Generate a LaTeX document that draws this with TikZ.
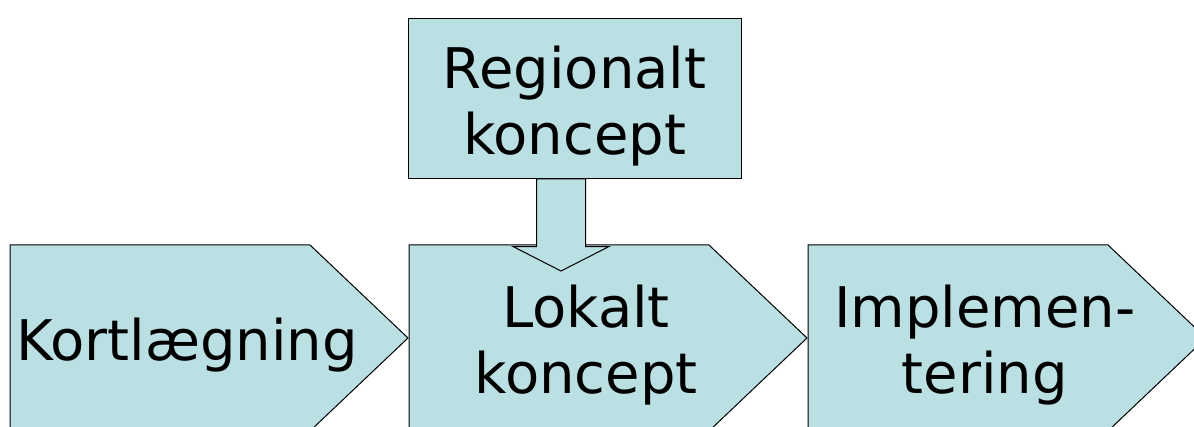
\documentclass[tikz,border=0pt]{standalone}
\usepackage{fontspec}
\setmainfont{DejaVu Sans}
\usetikzlibrary{positioning,shapes.symbols,shapes.arrows}
\definecolor{boxblue}{RGB}{187,224,227}

\begin{document}
\begin{tikzpicture}[x=1pt,y=1pt,node distance=1pt]
  \tikzstyle{stage}=[signal,signal to=east,signal pointer angle=87,draw=black,fill=boxblue,line width=1pt,minimum width=398pt,minimum height=186pt,inner sep=0pt,outer sep=0pt]
  \tikzstyle{concept}=[rectangle,draw=black,fill=boxblue,line width=1pt,minimum width=333pt,minimum height=160pt,inner sep=0pt,outer sep=0pt]
  \tikzstyle{feed}=[single arrow,draw=black,fill=boxblue,line width=1pt,minimum height=92pt,inner sep=24pt,single arrow head extend=23.5pt,single arrow tip angle=126,single arrow head indent=0pt,outer sep=0pt]
  \tikzstyle{bigtext}=[font=\fontsize{56}{66}\selectfont,align=center,inner sep=0pt]
  \useasboundingbox (0,0) rectangle (1194,427);

  % Stages
  \node[stage,anchor=west] (kort) at (10,89) {};
  \node[stage,right=1pt of kort] (lokal) {};
  \node[stage,right=1pt of lokal] (impl) {};
  \node[bigtext] (kortText) at ([shift={(177pt,-7pt)}]kort.west) {Kortlægning};
  \node[bigtext] (lokalText) at ([shift={(177pt,-7pt)}]lokal.west) {Lokalt\\koncept};
  \node[bigtext] (implText) at ([shift={(177pt,-7pt)}]impl.west) {Implemen-\\tering};

  % Regional concept feeding the local one
  \node[concept] (region) at (574.5,328) {};
  \node[bigtext] (regionText) at ([yshift=-7pt]region.center) {Regionalt\\koncept};
  \node[feed,shape border rotate=270,anchor=tail] (feedarrow) at (561,248) {};
\end{tikzpicture}
\end{document}
